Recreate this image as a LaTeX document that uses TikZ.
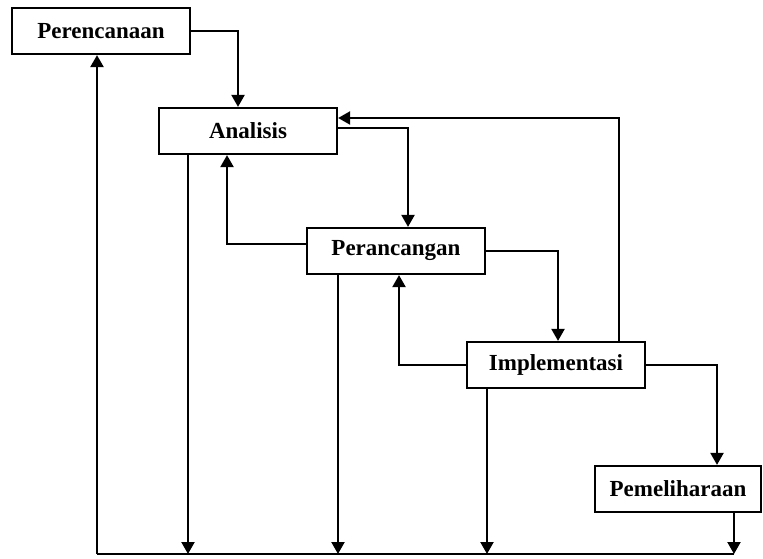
\documentclass[tikz,border=0pt]{standalone}
\usepackage{fontspec}
\setmainfont{Liberation Serif}
\usetikzlibrary{arrows.meta}
\tikzset{
  tahap/.style = {draw, line width=2.2pt, minimum width=178pt, minimum height=46pt,
                  inner sep=0pt, font=\fontsize{23}{27}\selectfont\bfseries},
  panah/.style = {line width=2.2pt, -{Triangle[length=12pt,width=13pt]}},
  garis/.style = {line width=2.2pt}
}
\begin{document}
\begin{tikzpicture}[x=1pt, y=-1pt]
   \useasboundingbox (0,0) rectangle (763,559);
   \node[tahap] (per)  at (101,31)  {Perencanaan};
   \node[tahap] (ana)  at (248,131) {Analisis};
   \node[tahap] (pran) at (396,251) {Perancangan};
   \node[tahap] (imp)  at (556,365) {Implementasi};
   \node[tahap, minimum width=166pt] (pem) at (678,489) {Pemeliharaan};
   \coordinate (bl) at (97,554);
   \coordinate (br) at (734,554);
   % alur maju
   \draw[panah] (per.east) -| ([xshift=-10pt]ana.north);
   \draw[panah] ([yshift=3pt]ana.east) -| ([xshift=12pt]pran.north);
   \draw[panah] (pran.east) -| ([xshift=2pt]imp.north);
   \draw[panah] (imp.east) -| ([xshift=39pt]pem.north);
   % alur balik
   \draw[panah] ([yshift=7pt]pran.west) -| ([xshift=-21pt]ana.south);
   \draw[panah] (imp.west) -| ([xshift=3pt]pran.south);
   \draw[panah] ([xshift=63pt]imp.north) |- ([yshift=13pt]ana.east);
   % ke garis bawah
   \draw[panah] ([xshift=-60pt]ana.south) -- ([xshift=-60pt]ana.south |- bl);
   \draw[panah] ([xshift=-58pt]pran.south) -- ([xshift=-58pt]pran.south |- bl);
   \draw[panah] ([xshift=-69pt]imp.south) -- ([xshift=-69pt]imp.south |- bl);
   \draw[panah] ([xshift=56pt]pem.south) -- ([xshift=56pt]pem.south |- br);
   \draw[garis] (br) -- (bl);
   \draw[panah] (bl) -- (bl |- per.south);
\end{tikzpicture}
\end{document}
